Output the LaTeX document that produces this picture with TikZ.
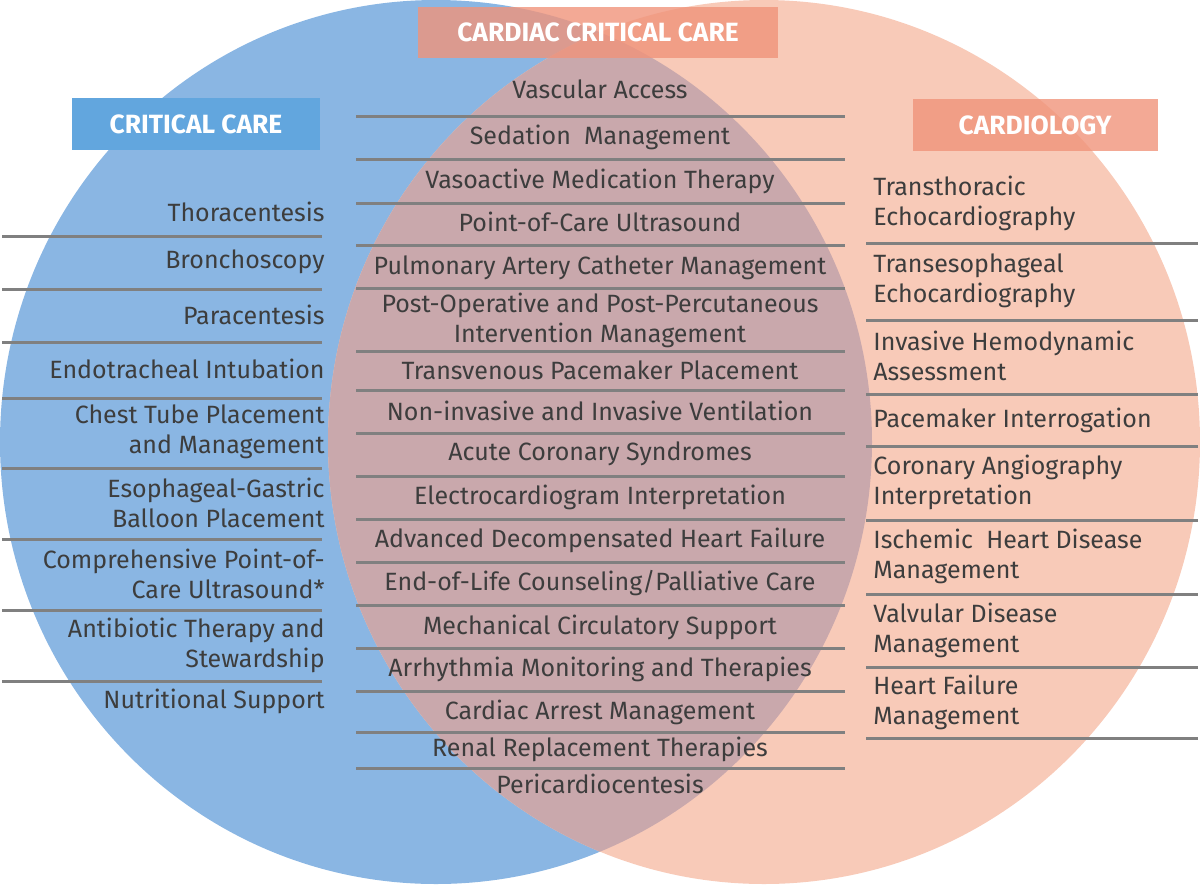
\documentclass[tikz,border=0pt]{standalone}
\usepackage{fontspec}
\setmainfont{Fira Sans}
\usetikzlibrary{positioning}

\definecolor{critblue}{HTML}{8AB6E3}
\definecolor{cardpeach}{HTML}{F8CAB8}
\definecolor{lensmauve}{HTML}{C9A8AC}
\definecolor{headblue}{HTML}{62A6DE}
\definecolor{headorange}{HTML}{F0937A}
\definecolor{rulegray}{HTML}{808080}
\definecolor{itemgray}{HTML}{3D3D3D}

\begin{document}
\begin{tikzpicture}[
    x=0.5pt, y=-0.5pt,
    every node/.style={inner sep=0pt, text=itemgray, font=\fontsize{12.5}{15}\selectfont},
    header/.style={minimum height=26pt, text=white, font=\fontsize{13.2}{15}\selectfont\bfseries},
    sep/.style={line width=1.5pt, draw=rulegray},
    leftitem/.style={anchor=east, align=right},
    miditem/.style={align=center},
    rightitem/.style={anchor=west, align=left}
    ]

    \useasboundingbox (0,0) rectangle (1200,885);

    \fill[critblue] (436,442) ellipse [x radius=436, y radius=442];
    \fill[cardpeach] (764,442) ellipse [x radius=436, y radius=442];
    \begin{scope}
        \clip (436,442) ellipse [x radius=436, y radius=442];
        \fill[lensmauve] (764,442) ellipse [x radius=436, y radius=442];
    \end{scope}

    \node[header, fill=headblue, minimum width=124pt] (crit) at (196,124) {CRITICAL CARE};
    \node[header, fill=headorange, fill opacity=0.8, text opacity=1, minimum width=180pt, minimum height=25.5pt] (ccc) at (598,32) {CARDIAC CRITICAL CARE};
    \node[header, fill=headorange, fill opacity=0.8, text opacity=1, minimum width=122.5pt] (card) at (1035,125) {CARDIOLOGY};

    \foreach \y in {236,289,342,398,468,539,610,681}
        \draw[sep] (2,\y) -- (322,\y);
    \foreach \y in {116,159,203,245,288,351,390,433,476,519,562,605,648,691,732,768}
        \draw[sep] (356,\y) -- (845,\y);
    \foreach \y in {243,320,394,446,520,594,667,738}
        \draw[sep] (866,\y) -- (1198,\y);

    \foreach \y/\t [count=\i] in {
        212/Thoracentesis,
        262/Bronchoscopy,
        315/Paracentesis,
        369/Endotracheal Intubation,
        432/{Chest Tube Placement\\and Management},
        503/{Esophageal-Gastric\\Balloon Placement},
        574/{Comprehensive Point-of-\\Care Ultrasound*},
        645/{Antibiotic Therapy and\\Stewardship},
        701/Nutritional Support}
        \node[leftitem] (l\i) at (325,\y) {\t};

    \foreach \y/\t [count=\i] in {
        89/Vascular Access,
        137/Sedation\ \ Management,
        181/Vasoactive Medication Therapy,
        222/Point-of-Care Ultrasound,
        268/Pulmonary Artery Catheter Management,
        320/{Post-Operative and Post-Percutaneous\\Intervention Management},
        370/Transvenous Pacemaker Placement,
        411/Non-invasive and Invasive Ventilation,
        454/Acute Coronary Syndromes,
        497/Electrocardiogram Interpretation,
        540/Advanced Decompensated Heart Failure,
        583/{End-of-Life Counseling/Palliative Care},
        627/Mechanical Circulatory Support,
        669/Arrhythmia Monitoring and Therapies,
        712/Cardiac Arrest Management,
        749/Renal Replacement Therapies,
        784/Pericardiocentesis}
        \node[miditem] (m\i) at (600,\y) {\t};

    \foreach \y/\t [count=\i] in {
        203/{Transthoracic\\Echocardiography},
        281/{Transesophageal\\Echocardiography},
        356/{Invasive Hemodynamic\\Assessment},
        420/Pacemaker Interrogation,
        482/{Coronary Angiography\\Interpretation},
        556/{Ischemic\ \ Heart Disease\\Management},
        630/{Valvular Disease\\Management},
        702/{Heart Failure\\Management}}
        \node[rightitem] (r\i) at (873,\y) {\t};

\end{tikzpicture}
\end{document}
